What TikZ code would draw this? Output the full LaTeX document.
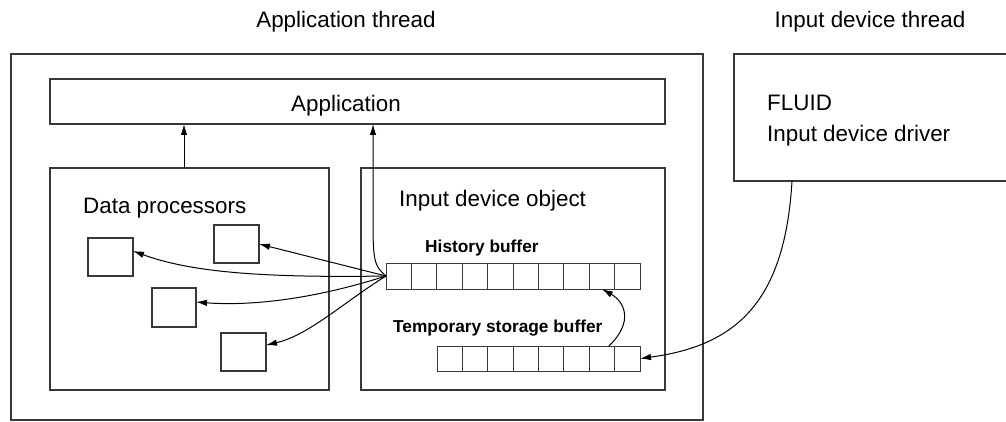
\documentclass[tikz,border=0pt]{standalone}
\usepackage{fontspec}
\setmainfont{Liberation Sans}
\usetikzlibrary{arrows.meta}
\begin{document}
\begin{tikzpicture}[x=1pt,y=-1pt,
  box/.style={draw=black!78, line width=1.1pt, inner sep=0pt, outer sep=0pt, anchor=north west},
  cell/.style={draw=black!78, line width=1pt, minimum width=25.4pt, inner sep=0pt, outer sep=0pt, anchor=north west},
  arr/.style={draw=black, line width=1pt, -{Latex[length=11pt,width=6.5pt]}},
  lbl/.style={inner sep=0pt, font=\fontsize{22.4}{26}\selectfont},
  blbl/.style={inner sep=0pt, anchor=base west, font=\fontsize{17.3}{20}\selectfont\bfseries}]
\useasboundingbox (0,0) rectangle (1006,422);
\clip (0,0) rectangle (1006,422);

% titles
\node[lbl, anchor=base] (tapp) at (346,28) {Application thread};
\node[lbl, anchor=base] (tdev) at (870,28) {Input device thread};

% main boxes
\node[box, minimum width=692pt, minimum height=366pt] (outer) at (11,54) {};
\node[box, minimum width=615pt, minimum height=45pt] (app) at (50,79) {};
\node[lbl, anchor=base] (applbl) at (346,112) {Application};
\node[box, minimum width=279pt, minimum height=222pt] (data) at (50,168) {};
\node[box, minimum width=304pt, minimum height=222pt] (obj) at (361,168) {};
\node[box, minimum width=320pt, minimum height=127pt] (fluid) at (734,54) {};

% labels
\node[lbl, anchor=base west] (dplbl) at (83,213) {Data processors};
\node[lbl, anchor=base west] (objlbl) at (399,207) {Input device object};
\node[lbl, anchor=base west] (fl1) at (767,111) {FLUID};
\node[lbl, anchor=base west] (fl2) at (767,142) {Input device driver};
\node[blbl] (hlbl) at (425,252) {History buffer};
\node[blbl] (tlbl) at (393,332) {Temporary storage buffer};

% data processors
\node[box, minimum width=45pt, minimum height=38pt] (A) at (88,238) {};
\node[box, minimum width=45pt, minimum height=38pt] (B) at (214,225) {};
\node[box, minimum width=44pt, minimum height=39pt] (C) at (152,288) {};
\node[box, minimum width=45pt, minimum height=38pt] (D) at (221,333) {};

% buffers
\foreach \i in {1,...,10}
  \node[cell, minimum height=26pt] (h\i) at ({386+25.4*(\i-1)},263) {};
\foreach \i in {1,...,8}
  \node[cell, minimum height=25pt] (t\i) at ({437+25.375*(\i-1)},346) {};

% connectors
\path (data.north west) ++(134,0) coordinate (ds);
\draw[arr] (ds) -- (ds |- app.south);
\path (app.south west) ++(323,0) coordinate (as);
\draw[arr] (h1.west) .. controls +(-12,-10) and +(0,40) .. ++(-13,-56) -- (as);

\draw[arr] (h1.west) .. controls +(-125,2) and +(57,21) .. (A.15);
\draw[arr] (h1.west) -- (B.east);
\draw[arr] (h1.west) .. controls +(-75,24) and +(53,4) .. (C.14);
\draw[arr] (h1.west) .. controls +(-42,26) and +(43,-10) .. (D.17);

\draw[arr] (t7.61) .. controls +(25,-24) and +(23,13) .. (h9.south);

\path (fluid.south west) ++(58,0) coordinate (fs);
\draw[arr] (fs) .. controls +(-7,119) and +(98,-13) .. (t8.east);
\end{tikzpicture}
\end{document}
